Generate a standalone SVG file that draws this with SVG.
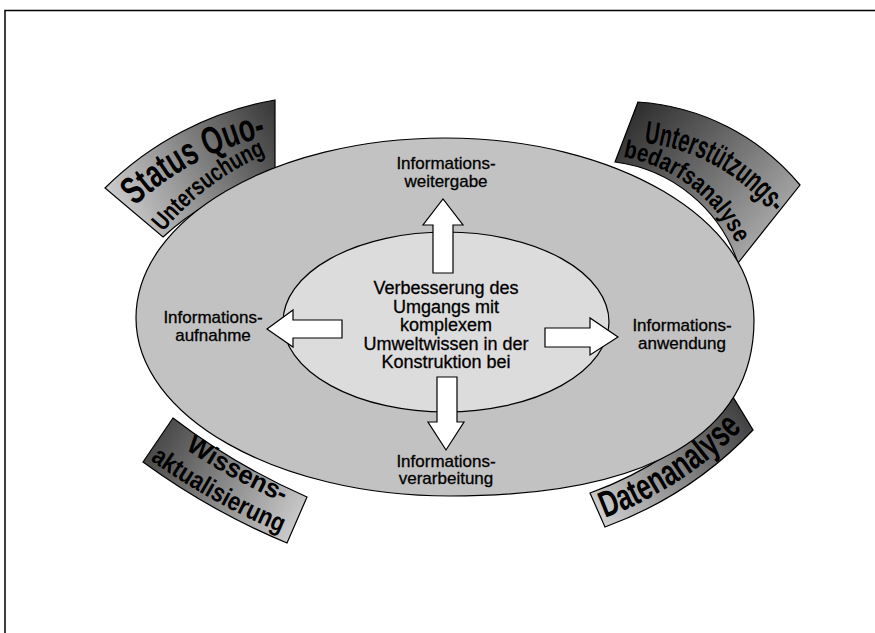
<svg xmlns="http://www.w3.org/2000/svg" width="875" height="633" viewBox="0 0 875 633">
  <defs>
    <style>
      .frame { fill: none; stroke: #000; stroke-width: 1.5; }
      .band { stroke: #000; stroke-width: 1.2; }
      .outer { fill: #c2c2c2; stroke: #000; stroke-width: 1.2; }
      .inner { fill: #dcdcdc; stroke: #000; stroke-width: 1.2; }
      .arrow { fill: #fff; stroke: #000; stroke-width: 1.2; stroke-linejoin: miter; }
      .lbl { font-family: "Liberation Sans", Arial, sans-serif; font-size: 17px; fill: #000; stroke: #000; stroke-width: 0.3; text-anchor: middle; }
      .core { font-family: "Liberation Sans", Arial, sans-serif; font-size: 18px; fill: #000; stroke: #000; stroke-width: 0.3; text-anchor: middle; }
      .arc { font-family: "Liberation Sans", Arial, sans-serif; font-weight: bold; fill: #000; }
    </style>
    <linearGradient id="gTL" gradientUnits="userSpaceOnUse" x1="110" y1="200" x2="275" y2="105">
      <stop offset="0" stop-color="#cdcdcd"/>
      <stop offset="1" stop-color="#383838"/>
    </linearGradient>
    <linearGradient id="gTR" gradientUnits="userSpaceOnUse" x1="640" y1="105" x2="790" y2="240">
      <stop offset="0" stop-color="#303030"/>
      <stop offset="1" stop-color="#b4b4b4"/>
    </linearGradient>
    <linearGradient id="gBL" gradientUnits="userSpaceOnUse" x1="150" y1="440" x2="300" y2="525">
      <stop offset="0" stop-color="#454545"/>
      <stop offset="1" stop-color="#cccccc"/>
    </linearGradient>
    <linearGradient id="gBR" gradientUnits="userSpaceOnUse" x1="600" y1="520" x2="748" y2="405">
      <stop offset="0" stop-color="#d0d0d0"/>
      <stop offset="1" stop-color="#3a3a3a"/>
    </linearGradient>
    <!-- baselines for the curved banner lettering -->
    <path id="pStatus" d="M135,206 A287,287 0 0 1 269,136"/>
    <path id="pUnters" d="M163,232 A280,280 0 0 1 273,151"/>
    <path id="pUnterst" d="M644,143 A190,190 0 0 1 772,214"/>
    <path id="pBedarf" d="M623,157 A156,156 0 0 1 738,247"/>
    <path id="pWissens" d="M185,449 A662,662 0 0 0 293,507"/>
    <path id="pAktual" d="M150,460 A690,690 0 0 0 291,537"/>
    <path id="pDaten" d="M605,518 A380,380 0 0 0 745,426"/>
  </defs>

  <!-- page frame -->
  <path class="frame" d="M5,633 V10.5 H875"/>

  <!-- corner banners (behind the ellipse) -->
  <g id="band-status-quo">
    <path class="band" fill="url(#gTL)" d="M105,188 A321,321 0 0 1 275,100 L275,178 A245,245 0 0 0 163,237 Z"/>
    <text class="arc" font-size="39"><textPath href="#pStatus" textLength="150" lengthAdjust="spacingAndGlyphs">Status Quo-</textPath></text>
    <text class="arc" font-size="25"><textPath href="#pUnters" textLength="130" lengthAdjust="spacingAndGlyphs">Untersuchung</textPath></text>
  </g>
  <g id="band-unterstuetzung">
    <path class="band" fill="url(#gTR)" d="M638,102 A230,230 0 0 1 800,185 L738,263 A150,150 0 0 0 615,162 Z"/>
    <text class="arc" font-size="32"><textPath href="#pUnterst" textLength="150" lengthAdjust="spacingAndGlyphs">Unterstützungs-</textPath></text>
    <text class="arc" font-size="25"><textPath href="#pBedarf" textLength="148" lengthAdjust="spacingAndGlyphs">bedarfsanalyse</textPath></text>
  </g>
  <g id="band-wissen">
    <path class="band" fill="url(#gBL)" d="M143,462 A698,698 0 0 0 287,543 L307,497 A645,645 0 0 1 173,418 Z"/>
    <text class="arc" font-size="26"><textPath href="#pWissens" textLength="112" lengthAdjust="spacingAndGlyphs">Wissens-</textPath></text>
    <text class="arc" font-size="26"><textPath href="#pAktual" textLength="150" lengthAdjust="spacingAndGlyphs">aktualisierung</textPath></text>
  </g>
  <g id="band-daten">
    <path class="band" fill="url(#gBR)" d="M605,527 A388,388 0 0 0 753,430 L733,397 A351,351 0 0 1 590,493 Z"/>
    <text class="arc" font-size="37"><textPath href="#pDaten" textLength="165" lengthAdjust="spacingAndGlyphs">Datenanalyse</textPath></text>
  </g>

  <!-- outer ellipse with the four activities -->
  <g id="outer">
    <path class="outer" d="M136,318 C136,218.6 274.3,138 445,138 C615.7,138 754,219.5 754,320 C754,434.4 647.6,496 450,496 C276.6,496 136,416.3 136,318 Z"/>
  </g>
  <g id="lbl-weitergabe">
    <text class="lbl" x="446" y="169">Informations-</text>
    <text class="lbl" x="446" y="187">weitergabe</text>
  </g>
  <g id="lbl-aufnahme">
    <text class="lbl" x="213" y="323">Informations-</text>
    <text class="lbl" x="213" y="341">aufnahme</text>
  </g>
  <g id="lbl-anwendung">
    <text class="lbl" x="682" y="331">Informations-</text>
    <text class="lbl" x="682" y="349">anwendung</text>
  </g>
  <g id="lbl-verarbeitung">
    <text class="lbl" x="446" y="467">Informations-</text>
    <text class="lbl" x="446" y="484">verarbeitung</text>
  </g>

  <!-- inner goal ellipse -->
  <g id="core">
    <ellipse class="inner" cx="446" cy="322" rx="163" ry="90"/>
    <text class="core" x="446" y="294">Verbesserung des</text>
    <text class="core" x="446" y="312.5">Umgangs mit</text>
    <text class="core" x="446" y="331">komplexem</text>
    <text class="core" x="446" y="349.5">Umweltwissen in der</text>
    <text class="core" x="446" y="368">Konstruktion bei</text>
  </g>

  <!-- block arrows from the goal to each activity -->
  <g id="connectors">
    <polygon class="arrow" points="433,273 433,225 423,225 443,199 463,225 453,225 453,273"/>
    <polygon class="arrow" points="437,377 457,377 457,422 464,422 446,450 428,422 437,422"/>
    <polygon class="arrow" points="342,320 342,338 293,338 293,347 267,329 293,310 293,320"/>
    <polygon class="arrow" points="545,328 590,328 590,318 618,337 590,355 590,347 545,347"/>
  </g>
</svg>
